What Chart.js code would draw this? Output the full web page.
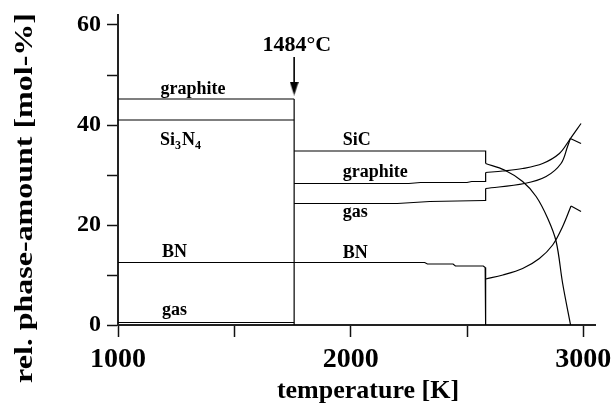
<!DOCTYPE html>
<html>
<head>
<meta charset="utf-8">
<script src="https://cdn.jsdelivr.net/npm/chart.js@4/dist/chart.umd.min.js"></script>
<style>
  html, body { margin: 0; padding: 0; background: #fff; }
  canvas { display: block; }
</style>
</head>
<body>
<canvas id="c" width="614" height="406"></canvas>
<script>
// Cumulative phase amounts [mol-%] versus temperature [K]
// Si3N4 decomposes at 1484 °C (1757 K); SiC decomposes from about 2580 K.

const xTickValues = [1000, 1500, 2000, 2500, 3000];
const xTickLabels = ['1000', '', '2000', '', '3000'];
const yTickValues = [0, 10, 20, 30, 40, 50, 60];
const yTickLabels = ['0', '', '20', '', '40', '', '60'];

// below 1484 °C
const graphiteLow = [[1000, 45.2], [1757, 45.2]];
const si3n4Low    = [[1000, 41.0], [1757, 41.0]];
const bnLow       = [[1000, 12.5], [1757, 12.5]];
const gasLow      = [[1000, 0.5], [1757, 0.5]];
const transition  = [[1757, 0], [1757, 45.2]];

// between 1484 °C and SiC decomposition
const sicMid      = [[1757, 34.8], [2580, 34.8], [2580, 32.3]];
const graphiteMid = [[1757, 28.3], [2250, 28.3], [2300, 28.5], [2500, 28.5], [2520, 28.7], [2580, 28.7], [2580, 30.5]];
const gasMid      = [[1757, 24.3], [2200, 24.3], [2340, 24.7], [2575, 24.9], [2580, 24.9], [2580, 27.3]];
const bnMid       = [[1757, 12.5], [2318, 12.5], [2330, 12.2], [2440, 12.2], [2450, 11.8], [2570, 11.8], [2578, 11.5], [2580, 11.5], [2580, 0]];

// above SiC decomposition
const sicHigh      = [[2580, 32.3], [2661, 31.0], [2739, 28.7], [2797, 25.7], [2847, 21.3], [2883, 16.7], [2911, 8.3], [2945, 0]];
const graphiteHigh = [[2580, 30.5], [2654, 30.8], [2739, 31.3], [2825, 32.3], [2897, 34.3], [2940, 37.0], [2990, 40.3]];
const gasHigh      = [[2580, 27.3], [2747, 28.3], [2840, 29.7], [2904, 32.3], [2932, 35.7], [2944, 37.3]];
const gasHighEnd   = [[2944, 37.3], [2990, 36.3]];
const bnHigh       = [[2580, 9.2], [2654, 10.0], [2739, 11.3], [2811, 13.3], [2868, 16.0], [2911, 19.7], [2947, 23.8]];
const bnHighEnd    = [[2947, 23.8], [2990, 22.7]];

// marker for the Si3N4 decomposition temperature
const arrowShaft = [[1757, 53.6], [1757, 47.0]];
const arrowHead  = [[1757, 47.3]];

// phase names, anchored at (temperature, amount) of their left baseline
const phaseLabels = [
  { parts: [['graphite', 0]], t: 1183, v: 46.3 },
  { parts: [['Si', 0], ['3', 1], ['N', 0], ['4', 1]], t: 1180, v: 36.0 },
  { parts: [['BN', 0]], t: 1189, v: 13.7 },
  { parts: [['gas', 0]], t: 1189, v: 2.0 },
  { parts: [['SiC', 0]], t: 1966, v: 36.0 },
  { parts: [['graphite', 0]], t: 1966, v: 29.7 },
  { parts: [['gas', 0]], t: 1966, v: 21.7 },
  { parts: [['BN', 0]], t: 1966, v: 13.5 }
];
const transitionLabel = { text: '1484°C', t: 1621, v: 54.8 };

const SERIF = '"Liberation Serif", "Times New Roman", serif';

function toPoints(arr) { return arr.map(p => ({ x: p[0], y: p[1] })); }

function lineSet(arr, curved) {
  return {
    data: toPoints(arr),
    showLine: true,
    borderColor: '#000',
    borderWidth: 1.2,
    pointRadius: 0,
    tension: curved ? 0.35 : 0,
    fill: false
  };
}

// arrow head glyph used as point style
const head = document.createElement('canvas');
head.width = 9; head.height = 14;
(function () {
  const g = head.getContext('2d');
  g.fillStyle = '#000';
  g.beginPath();
  g.moveTo(0, 0); g.lineTo(9, 0); g.lineTo(4.5, 14); g.closePath();
  g.fill();
})();

const textPlugin = {
  id: 'phaseText',
  afterDatasetsDraw(chart) {
    const { ctx } = chart;
    const xs = chart.scales.x, ys = chart.scales.y;
    ctx.save();
    ctx.fillStyle = '#000';
    ctx.textBaseline = 'alphabetic';
    ctx.textAlign = 'left';

    phaseLabels.forEach(l => {
      let px = xs.getPixelForValue(l.t);
      const py = ys.getPixelForValue(l.v);
      l.parts.forEach(([s, sub]) => {
        ctx.font = sub ? 'bold 12px ' + SERIF : 'bold 18px ' + SERIF;
        ctx.fillText(s, px, py + (sub ? 4 : 0));
        px += ctx.measureText(s).width + (sub ? 1 : 0);
      });
    });

    ctx.font = 'bold 22px ' + SERIF;
    ctx.fillText(transitionLabel.text, xs.getPixelForValue(transitionLabel.t), ys.getPixelForValue(transitionLabel.v));

    // axis titles
    ctx.textAlign = 'center';
    ctx.font = 'bold 26px ' + SERIF;
    ctx.fillText('temperature [K]', 368, 398);

    ctx.translate(32, 198);
    ctx.rotate(-Math.PI / 2);
    ctx.scale(1.23, 1);
    ctx.fillText('rel. phase-amount [mol-%]', 0, 0);
    ctx.restore();
  }
};

new Chart(document.getElementById('c'), {
  type: 'scatter',
  data: {
    datasets: [
      lineSet(graphiteLow), lineSet(si3n4Low), lineSet(bnLow), lineSet(gasLow), lineSet(transition),
      lineSet(sicMid), lineSet(graphiteMid), lineSet(gasMid), lineSet(bnMid),
      lineSet(sicHigh, true), lineSet(graphiteHigh, true), lineSet(gasHigh, true), lineSet(gasHighEnd),
      lineSet(bnHigh, true), lineSet(bnHighEnd),
      Object.assign(lineSet(arrowShaft), { borderWidth: 1.6 }),
      {
        data: toPoints(arrowHead),
        showLine: false,
        pointStyle: head,
        pointRadius: 5
      }
    ]
  },
  options: {
    responsive: false,
    animation: false,
    devicePixelRatio: 1,
    events: [],
    layout: { padding: { top: 15, right: 19, left: 0, bottom: 0 } },
    plugins: { legend: { display: false }, tooltip: { enabled: false } },
    scales: {
      x: {
        type: 'linear',
        min: 1000,
        max: 3050,
        afterBuildTicks: s => { s.ticks = xTickValues.map(v => ({ value: v })); },
        afterFit: s => { s.height = 81; s.paddingLeft = 0; s.paddingRight = 0; },
        ticks: {
          autoSkip: false,
          maxRotation: 0,
          padding: 6,
          color: '#000',
          font: { family: SERIF, size: 28, weight: 'bold' },
          callback: v => xTickLabels[xTickValues.indexOf(v)]
        },
        grid: { drawOnChartArea: false, drawTicks: true, tickLength: 12, tickColor: '#111', tickWidth: 1.5 },
        border: { display: true, color: '#222', width: 2 }
      },
      y: {
        type: 'linear',
        min: 0,
        max: 62,
        afterBuildTicks: s => { s.ticks = yTickValues.map(v => ({ value: v })); },
        afterFit: s => { s.width = 118; s.paddingTop = 0; s.paddingBottom = 0; },
        ticks: {
          autoSkip: false,
          padding: 6,
          color: '#000',
          font: { family: SERIF, size: 24, weight: 'bold' },
          callback: v => yTickLabels[yTickValues.indexOf(v)]
        },
        grid: { drawOnChartArea: false, drawTicks: true, tickLength: 11, tickColor: '#111', tickWidth: 1.5 },
        border: { display: true, color: '#222', width: 2 }
      }
    }
  },
  plugins: [textPlugin]
});
</script>
</body>
</html>
